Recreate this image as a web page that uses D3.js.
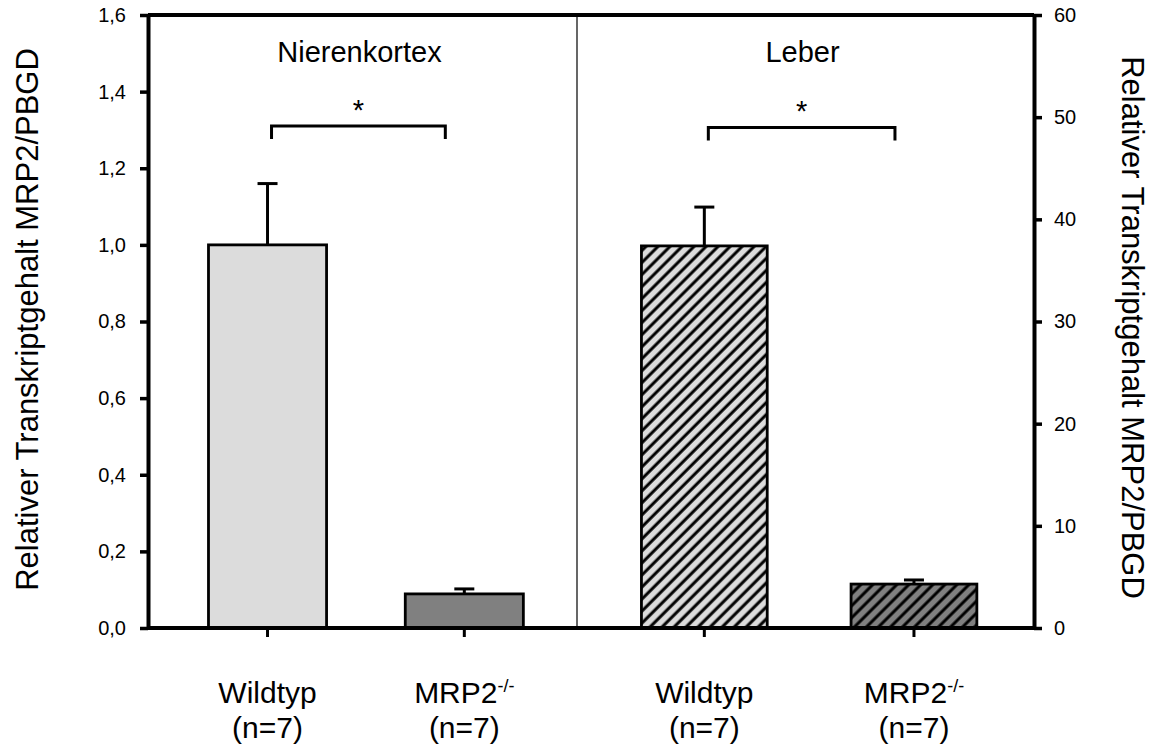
<!DOCTYPE html>
<html>
<head>
<meta charset="utf-8">
<script src="https://cdn.jsdelivr.net/npm/d3@7"></script>
<style>
  body { margin: 0; background: #fff; }
  text { font-family: "Liberation Sans", Arial, Helvetica, sans-serif; fill: #000; }
</style>
</head>
<body>
<svg id="chart" width="1157" height="753"></svg>
<script>
// values
const categories = ["Wildtyp", "MRP2-/-"];
const sampleSizes = ["(n=7)", "(n=7)"];
const panelNames = ["Nierenkortex", "Leber"];
const kidneyMeans = [1.0, 0.089];
const kidneyErrors = [0.16, 0.013];
const liverMeans = [37.4, 4.3];
const liverErrors = [3.8, 0.4];
const leftTicks = [0, 0.2, 0.4, 0.6, 0.8, 1.0, 1.2, 1.4, 1.6];
const rightTicks = [0, 10, 20, 30, 40, 50, 60];
const sigLevels = [1.31, 49]; // bracket height, in units of each panel's axis
const axisTitle = "Relativer Transkriptgehalt MRP2/PBGD";

const svg = d3.select("#chart");
const plotLeft = 148, plotRight = 1034, plotTop = 15, plotBottom = 628, divider = 577;

const yLeft = d3.scaleLinear().domain([0, 1.6]).range([plotBottom, plotTop]);
const yRight = d3.scaleLinear().domain([0, 60]).range([plotBottom, plotTop]);

const xKidney = d3.scaleBand().domain(categories).range([plotLeft, divider]).paddingInner(0.4).paddingOuter(0.29).align(0.53);
const xLiver = d3.scaleBand().domain(categories).range([divider, plotRight]).paddingInner(0.4).paddingOuter(0.29).align(0.53);

// hatch patterns for the liver bars
const defs = svg.append("defs");
[["hatchLight", "#dcdcdc"], ["hatchDark", "#808080"]].forEach(function(p) {
    const pat = defs.append("pattern").attr("id", p[0]).attr("patternUnits", "userSpaceOnUse")
        .attr("width", 8.5).attr("height", 8.5).attr("patternTransform", "rotate(45)");
    pat.append("rect").attr("width", 8.5).attr("height", 8.5).attr("fill", p[1]);
    pat.append("line").attr("x1", 2).attr("x2", 2).attr("y1", 0).attr("y2", 8.5)
        .attr("stroke", "#000").attr("stroke-width", 3);
});

const panels = [
    {x: xKidney, y: yLeft, means: kidneyMeans, errs: kidneyErrors, fills: ["#dcdcdc", "#808080"], name: panelNames[0], sig: sigLevels[0], x0: plotLeft, x1: divider},
    {x: xLiver, y: yRight, means: liverMeans, errs: liverErrors, fills: ["url(#hatchLight)", "url(#hatchDark)"], name: panelNames[1], sig: sigLevels[1], x0: divider, x1: plotRight}
];

panels.forEach(function(p) {
    const g = svg.append("g");
    // error bars (drawn first so the bar covers the stem)
    g.selectAll(".err").data(categories).enter().append("line")
        .attr("x1", d => p.x(d) + p.x.bandwidth() / 2).attr("x2", d => p.x(d) + p.x.bandwidth() / 2)
        .attr("y1", (d, i) => p.y(p.means[i])).attr("y2", (d, i) => p.y(p.means[i] + p.errs[i]))
        .attr("stroke", "#000").attr("stroke-width", 3);
    g.selectAll(".cap").data(categories).enter().append("line")
        .attr("x1", d => p.x(d) + p.x.bandwidth() / 2 - 10).attr("x2", d => p.x(d) + p.x.bandwidth() / 2 + 10)
        .attr("y1", (d, i) => p.y(p.means[i] + p.errs[i])).attr("y2", (d, i) => p.y(p.means[i] + p.errs[i]))
        .attr("stroke", "#000").attr("stroke-width", 3);
    g.selectAll(".bar").data(categories).enter().append("rect")
        .attr("x", d => p.x(d)).attr("width", p.x.bandwidth())
        .attr("y", (d, i) => p.y(p.means[i])).attr("height", (d, i) => plotBottom - p.y(p.means[i]))
        .attr("fill", (d, i) => p.fills[i]).attr("stroke", "#000").attr("stroke-width", 2.8);

    // significance bracket
    const c0 = p.x(categories[0]) + p.x.bandwidth() / 2;
    const c1 = p.x(categories[1]) + p.x.bandwidth() / 2;
    const bx0 = c0 + 4, bx1 = c1 - 19, by = p.y(p.sig);
    g.append("path").attr("d", `M${bx0},${by + 13}V${by}H${bx1}V${by + 13}`)
        .attr("fill", "none").attr("stroke", "#000").attr("stroke-width", 3);
    g.append("text").attr("x", (bx0 + bx1) / 2).attr("y", by - 6).attr("text-anchor", "middle")
        .style("font-size", "29px").text("*");

    // panel title
    g.append("text").attr("x", (p.x0 + p.x1) / 2 - 3).attr("y", 62).attr("text-anchor", "middle")
        .style("font-size", "29px").text(p.name);

    // bottom ticks and category labels
    categories.forEach(function(c, i) {
        const cx = p.x(c) + p.x.bandwidth() / 2;
        g.append("line").attr("x1", cx).attr("x2", cx).attr("y1", plotBottom).attr("y2", plotBottom + 9)
            .attr("stroke", "#000").attr("stroke-width", 3);
        const t = g.append("text").attr("x", cx).attr("y", 703).attr("text-anchor", "middle").style("font-size", "30px");
        if (c.indexOf("-/-") > 0) {
            t.append("tspan").text(c.replace("-/-", ""));
            t.append("tspan").attr("dy", -11).style("font-size", "18px").text("-/-");
        } else {
            t.text(c);
        }
        g.append("text").attr("x", cx).attr("y", 738).attr("text-anchor", "middle").style("font-size", "30px").text(sampleSizes[i]);
    });
});

// frame
svg.append("line").attr("x1", plotLeft).attr("x2", plotRight).attr("y1", plotTop).attr("y2", plotTop).attr("stroke", "#000").attr("stroke-width", 4);
svg.append("line").attr("x1", plotLeft).attr("x2", plotRight).attr("y1", plotBottom).attr("y2", plotBottom).attr("stroke", "#000").attr("stroke-width", 4);
svg.append("line").attr("x1", divider).attr("x2", divider).attr("y1", plotTop).attr("y2", plotBottom).attr("stroke", "#000").attr("stroke-width", 1.2);

// axes
const fmt = d => d3.format(".1f")(d).replace(".", ",");
const axL = svg.append("g").attr("transform", `translate(${plotLeft},0)`)
    .call(d3.axisLeft(yLeft).tickValues(leftTicks).tickFormat(fmt).tickSize(8).tickPadding(14).tickSizeOuter(0));
const axR = svg.append("g").attr("transform", `translate(${plotRight},0)`)
    .call(d3.axisRight(yRight).tickValues(rightTicks).tickFormat(d3.format("d")).tickSize(8).tickPadding(12).tickSizeOuter(0));
[axL, axR].forEach(function(ax) {
    ax.select(".domain").attr("stroke-width", 4);
    ax.selectAll(".tick line").attr("stroke-width", 3.5);
    ax.selectAll(".tick text").style("font-size", "20px").style("font-family", '"Liberation Sans", Arial, sans-serif');
});

// axis titles
svg.append("text").attr("transform", `translate(38,${(plotTop + plotBottom) / 2 - 2}) rotate(-90)`)
    .attr("text-anchor", "middle").style("font-size", "31px").text(axisTitle);
svg.append("text").attr("transform", `translate(1122,${(plotTop + plotBottom) / 2 + 6}) rotate(90)`)
    .attr("text-anchor", "middle").style("font-size", "31px").text(axisTitle);
</script>
</body>
</html>
